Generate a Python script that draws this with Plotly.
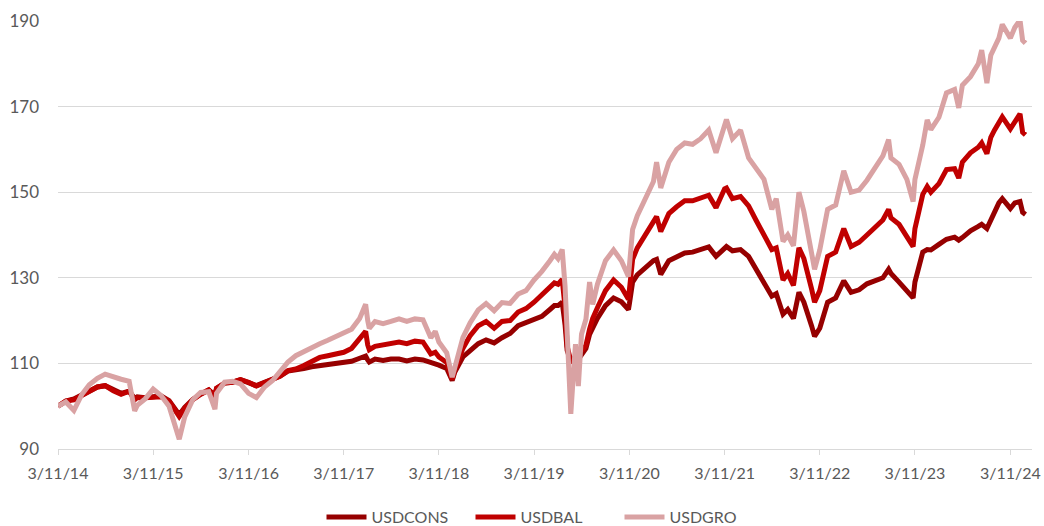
import plotly.graph_objects as go

dates = [
    "2014-11-03", "2014-12-03", "2015-01-03", "2015-02-03", "2015-03-03", "2015-04-03",
    "2015-05-03", "2015-06-03", "2015-07-03", "2015-08-03", "2015-08-24", "2015-09-03",
    "2015-10-03", "2015-11-03", "2015-12-03", "2016-01-03", "2016-02-03", "2016-02-11",
    "2016-03-03", "2016-04-03", "2016-05-03", "2016-06-03", "2016-06-27", "2016-07-03",
    "2016-08-03", "2016-09-03", "2016-10-03", "2016-11-03", "2016-12-03", "2017-01-03",
    "2017-02-03", "2017-03-03", "2017-04-03", "2017-05-03", "2017-06-03", "2017-07-03",
    "2017-08-03", "2017-09-03", "2017-10-03", "2017-11-03", "2017-12-03", "2018-01-03",
    "2018-01-26", "2018-02-03", "2018-02-09", "2018-03-03", "2018-04-03", "2018-05-03",
    "2018-06-03", "2018-07-03", "2018-08-03", "2018-09-03", "2018-10-03", "2018-10-20",
    "2018-11-03", "2018-12-03", "2018-12-24", "2019-01-03", "2019-02-03", "2019-03-03",
    "2019-04-03", "2019-05-03", "2019-06-03", "2019-07-03", "2019-08-03", "2019-09-03",
    "2019-10-03", "2019-11-03", "2019-12-03", "2020-01-03", "2020-01-20", "2020-02-03",
    "2020-02-19", "2020-03-01", "2020-03-09", "2020-03-23", "2020-04-03", "2020-04-10",
    "2020-04-21", "2020-05-03", "2020-05-20", "2020-06-03", "2020-06-15", "2020-07-03",
    "2020-08-03", "2020-09-03", "2020-10-03", "2020-10-30", "2020-11-03", "2020-11-15",
    "2020-12-03", "2021-01-03", "2021-02-03", "2021-02-15", "2021-03-03", "2021-04-03",
    "2021-05-03", "2021-06-03", "2021-07-03", "2021-08-03", "2021-09-03", "2021-10-01",
    "2021-11-03", "2021-11-10", "2021-12-03", "2022-01-03", "2022-02-03", "2022-03-03",
    "2022-04-03", "2022-05-03", "2022-05-20", "2022-06-15", "2022-07-03", "2022-07-25",
    "2022-08-15", "2022-09-03", "2022-10-03", "2022-10-14", "2022-11-03", "2022-12-03",
    "2023-01-03", "2023-02-03", "2023-03-03", "2023-04-03", "2023-05-03", "2023-06-03",
    "2023-07-03", "2023-07-25", "2023-08-03", "2023-09-03", "2023-10-03", "2023-10-27",
    "2023-11-03", "2023-12-03", "2023-12-20", "2024-01-03", "2024-02-03", "2024-03-03",
    "2024-04-03", "2024-04-19", "2024-05-03", "2024-06-03", "2024-07-03", "2024-07-16",
    "2024-08-05", "2024-08-20", "2024-09-03", "2024-09-20", "2024-10-03", "2024-11-03",
    "2024-11-20", "2024-12-03", "2024-12-10", "2024-12-20", "2024-12-31",
]

usdgro = [
    100, 101, 99, 102.8, 105, 106.5,
    107.5, 106.8, 106.3, 105.8, 98.9, 100.2,
    101.7, 104, 102.5, 100, 94, 92.3,
    97.5, 101.5, 103.2, 103.4, 99.3, 103,
    105.6, 105.8, 105.2, 103, 102, 104.5,
    106, 108, 110.3, 111.8, 112.8, 113.8,
    114.6, 115.4, 116.3, 117, 118, 120.5,
    123.8, 120, 118.2, 119.8, 119.3, 119.8,
    120.4, 119.8, 120.4, 120.2, 116, 117.5,
    115, 112.5, 106.8, 109, 116, 119.5,
    122.5, 124, 122.3, 124.2, 124, 126.2,
    127, 129.5, 131.5, 134, 135.5, 134.5,
    136.6, 128, 115, 98.2, 108.5, 114.5,
    104.7, 116.8, 120.3, 129, 123.8, 128.5,
    134, 136.5, 134, 130.3, 133, 141.3,
    144.5, 148.5, 152.5, 157, 151, 157,
    160, 161.5, 161.2, 162.5, 164.5, 159.2,
    166.5, 167, 162.5, 164.5, 158, 155.5,
    153, 146, 148.5, 138.5, 140, 137.5,
    150, 145.5, 135, 132, 136.5, 146,
    147, 155, 150, 150.5, 152.8, 155.5,
    158.5, 162.3, 158, 156.5, 153, 147.8,
    153, 161, 166.9, 164.6, 167.5, 173.2,
    174, 169.7, 175, 177, 180, 183.2,
    175.5, 182, 184, 186, 189.2, 186,
    188.5, 190, 190.2, 185.5, 184.8,
]

usdbal = [
    100, 101.2, 101.5, 102.6, 103.5, 104.5,
    104.8, 103.6, 102.8, 103.5, 101.5, 102,
    102, 102, 102.2, 101.2, 98.5, 97.6,
    99.5, 101.5, 102.8, 103.8, 102.3, 104.2,
    105.4, 105.6, 106.2, 105.6, 104.7, 105.6,
    106.2, 107, 108.3, 108.7, 109.5, 110.6,
    111.4, 111.8, 112.2, 112.6, 113.5, 115.8,
    117.5, 114.3, 113.2, 114, 114.3, 114.8,
    115, 114.6, 115.2, 115, 112.2, 112.6,
    111.5, 110.2, 106.3, 108.5, 113.5, 116.5,
    118.8, 119.8, 118.2, 119.8, 120, 122,
    122.8, 124.3, 126, 127.8, 128.8, 128.5,
    129.6, 123, 114, 110.5, 111, 111.5,
    112, 113, 114.2, 118, 120.5, 123,
    127, 129.5, 127.8, 125, 127, 134.3,
    137, 140, 142.8, 144.3, 140.8, 145,
    146.6, 148, 148, 148.5, 149.3, 146.4,
    150.8, 151, 148.5, 149, 146.8, 143.5,
    140, 136.6, 137, 129.5, 131, 128.2,
    137, 134.5, 127.3, 124.3, 127, 135,
    136, 141.5, 137.3, 138.3, 140, 141.6,
    143.5, 146, 144, 142.5, 139.6, 137.3,
    141.5, 149.5, 151.3, 150, 152, 155.3,
    155.5, 153.3, 157, 159.2, 160.5, 161.5,
    159, 162.8, 164.5, 166, 167.6, 164.8,
    166.5, 167.5, 168.3, 164, 163.4,
]

usdcons = [
    100, 101.2, 101.7, 102.6, 103.6, 104.5,
    104.8, 103.8, 103, 103.5, 101.8, 102.2,
    102, 102.2, 102.4, 101.3, 98.8, 98,
    99.7, 101.6, 102.8, 103.8, 102.6, 104.2,
    105.4, 105.6, 106.2, 105.6, 104.8, 105.6,
    106.2, 107, 108.2, 108.4, 108.8, 109.2,
    109.5, 109.7, 109.8, 110.1, 110.5, 111.2,
    111.7, 110.8, 110.3, 111, 110.7, 111,
    111, 110.6, 111, 110.8, 110.2, 110,
    109.6, 108.8, 106, 108, 111.5, 113,
    114.6, 115.5, 114.8, 116, 117, 118.8,
    119.5, 120, 121, 122.6, 123.5, 123.5,
    124.3, 119, 113, 110.5, 110.8, 110.7,
    111, 112, 113.5, 116.8, 118.5, 120.5,
    123.5, 125.3, 124.4, 122.6, 124, 129,
    130.7, 132.5, 134, 134.3, 130.8, 134,
    135, 135.8, 136, 136.6, 137.2, 135,
    137.2, 137.3, 136.3, 136.6, 135, 132,
    128.6, 125.7, 126.3, 121.5, 122.6, 120.5,
    126.6, 124.3, 118.7, 116.3, 118.2, 124.3,
    125.3, 129.3, 126.6, 127.2, 128.6, 129.2,
    130, 132, 131, 129, 127, 125.3,
    129, 136, 136.6, 136.5, 137.8, 139,
    139.5, 138.8, 139.4, 141, 142, 142.5,
    141.5, 143.5, 145.8, 147.5, 148.5, 146.2,
    147.5, 147.6, 147.8, 145.3, 144.8,
]

assert len(dates) == len(usdgro) == len(usdbal) == len(usdcons)

series_names = ["USDCONS", "USDBAL", "USDGRO"]
series_values = [usdcons, usdbal, usdgro]
series_colors = ["#960000", "#C00000", "#D9A2A3"]

tick_dates = ["2014-11-03", "2015-11-03", "2016-11-03", "2017-11-03", "2018-11-03",
              "2019-11-03", "2020-11-03", "2021-11-03", "2022-11-03", "2023-11-03",
              "2024-11-03"]
tick_labels = ["3/11/14", "3/11/15", "3/11/16", "3/11/17", "3/11/18", "3/11/19",
               "3/11/20", "3/11/21", "3/11/22", "3/11/23", "3/11/24"]
y_ticks = [90, 110, 130, 150, 170, 190]

fig = go.Figure()
for name, vals, col in zip(series_names, series_values, series_colors):
    fig.add_trace(go.Scatter(x=dates, y=vals, name=name, mode="lines",
                             line=dict(color=col, width=5)))

font_family = "Lato, Open Sans, Arial, sans-serif"
fig.update_layout(
    width=1044, height=526,
    margin=dict(l=58, r=12, t=21, b=77, autoexpand=False),
    paper_bgcolor="white", plot_bgcolor="white",
    font=dict(family=font_family, size=17, color="#595959"),
    showlegend=True,
    legend=dict(orientation="h", x=0.5, xanchor="center",
                yref="container", y=0.017, yanchor="middle",
                font=dict(size=16, color="#595959"), itemwidth=40,
                entrywidth=94, tracegroupgap=0),
)
fig.update_xaxes(
    type="date", range=["2014-11-03", "2025-01-25"],
    tickmode="array", tickvals=tick_dates, ticktext=tick_labels,
    tickfont=dict(size=16),
    showgrid=False, showline=True, linecolor="#D9D9D9", linewidth=1,
    ticks="outside", ticklen=5, tickcolor="#D9D9D9",
    zeroline=False, automargin=False, ticklabelstandoff=5,
)
fig.update_yaxes(
    range=[90, 190], tickmode="array", tickvals=y_ticks,
    showgrid=True, gridcolor="#D9D9D9", gridwidth=1,
    showline=False, zeroline=False, ticks="", automargin=False,
    ticklabelstandoff=18,
)

# remove the default page margin so the 1044x526 figure fills the window exactly
fig.write_html("out.html",
               config={"displayModeBar": False},
               post_script="document.body.style.margin='0px';document.body.style.overflow='hidden';")
